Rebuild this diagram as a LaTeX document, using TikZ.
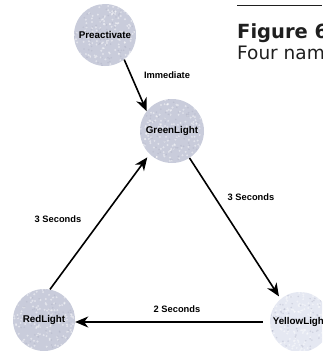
\documentclass[tikz,border=0pt]{standalone}
\usepackage{fontspec}
\setmainfont{Liberation Sans}
\newfontfamily\headfont{DejaVu Sans}
\usetikzlibrary{arrows.meta}
\definecolor{statefill}{rgb}{0.79,0.80,0.86}
\definecolor{speckdark}{rgb}{0.66,0.67,0.75}
\definecolor{yellowfill}{rgb}{0.90,0.91,0.95}
\definecolor{inkgray}{rgb}{0.12,0.12,0.12}
\pgfmathsetseed{4711}
% speckled texture inside a circle: centre, radius, colour
\newcommand{\speckle}[3]{%
  \begin{scope}
    \clip #1 circle (#2);
    \foreach \k in {1,...,170}{%
      \pgfmathsetmacro{\sx}{rand*#2}%
      \pgfmathsetmacro{\sy}{rand*#2}%
      \fill[white,opacity=0.45] ($#1+(\sx,\sy)$) circle (1.1pt);
    }
    \foreach \k in {1,...,90}{%
      \pgfmathsetmacro{\sx}{rand*#2}%
      \pgfmathsetmacro{\sy}{rand*#2}%
      \fill[#3,opacity=0.35] ($#1+(\sx,\sy)$) circle (0.9pt);
    }
  \end{scope}}
\usetikzlibrary{calc}
\begin{document}
\begin{tikzpicture}[x=1pt,y=-1pt,
  state/.style={circle,fill=statefill,inner sep=0pt},
  statetext/.style={font=\fontsize{9.8}{11}\selectfont\bfseries,inner sep=0pt},
  trans/.style={draw=black,line width=1.6pt,-{Stealth[length=13pt,width=11pt,inset=4pt]}},
  tlabel/.style={font=\fontsize{9.3}{10}\selectfont\bfseries,inner sep=1pt}]
\useasboundingbox (0,0) rectangle (322,351);
\clip (0,0) rectangle (322,351);
% state circles
\node[state,minimum size=62pt] (pre) at (105,35) {};
\node[state,minimum size=64pt] (green) at (172,131) {};
\node[state,minimum size=62pt] (red) at (44,320) {};
\node[state,fill=yellowfill,minimum size=60pt] (yellow) at (300,322) {};
\speckle{(pre.center)}{31pt}{speckdark}
\speckle{(green.center)}{32pt}{speckdark}
\speckle{(red.center)}{31pt}{speckdark}
\speckle{(yellow.center)}{30pt}{speckdark}
\node[statetext] (tpre) at (pre.center) {Preactivate};
\node[statetext] (tgreen) at (green.center) {GreenLight};
\node[statetext] (tred) at (red.center) {RedLight};
\node[statetext] (tyellow) at (yellow.center) {YellowLight};
% transitions
\draw[trans] (pre.-52) -- (green.142);
\draw[trans,shorten >=4pt] (red.79) -- (green.226);
\draw[trans,shorten >=3pt] (green.-57) -- (yellow.130);
\draw[trans,shorten <=7pt] (yellow.west) -- (red.east |- yellow.west);
% transition labels
\node[tlabel] (limm) at (167,75) {Immediate};
\node[tlabel] (lgy) at (251,197) {3 Seconds};
\node[tlabel] (lrg) at (58,219) {3 Seconds};
\node[tlabel] (lyr) at (177,309) {2 Seconds};
% caption fragment at the right edge
\coordinate (rule) at (237,5);
\draw[inkgray,line width=1pt] (rule) -- (322,5);
\node[anchor=base west,inner sep=0pt,text=inkgray,font=\headfont\fontsize{19.5}{22}\selectfont\bfseries] (fig) at (237,38) {Figure 6};
\node[anchor=base west,inner sep=0pt,text=inkgray,font=\headfont\fontsize{18.5}{22}\selectfont] (four) at (237,59) {Four named};
\end{tikzpicture}
\end{document}
